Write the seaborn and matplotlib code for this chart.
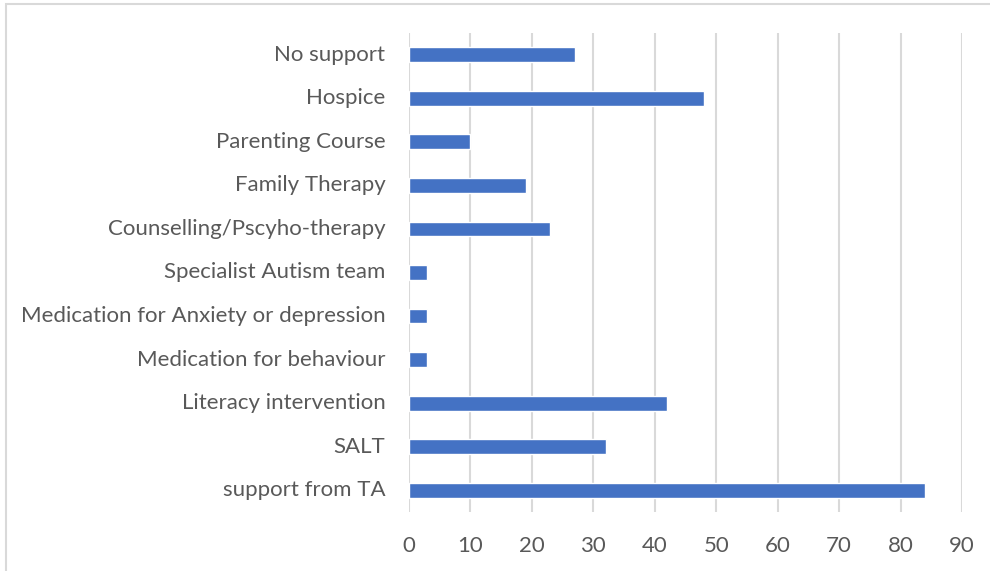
import matplotlib
matplotlib.use("Agg")
import matplotlib.pyplot as plt
import matplotlib.transforms as mtransforms
import seaborn as sns
import pandas as pd
from matplotlib.patches import Rectangle

categories = [
    "No support",
    "Hospice",
    "Parenting Course",
    "Family Therapy",
    "Counselling/Pscyho-therapy",
    "Specialist Autism team",
    "Medication for Anxiety or depression",
    "Medication for behaviour",
    "Literacy intervention",
    "SALT",
    "support from TA",
]
values = [27, 48, 10, 19, 23, 3, 3, 3, 42, 32, 84]
x_ticks = [0, 10, 20, 30, 40, 50, 60, 70, 80, 90]

df = pd.DataFrame({"category": categories, "value": values})

sns.set_theme(style="white")
plt.rcParams["font.family"] = ["Lato", "DejaVu Sans"]

fig = plt.figure(figsize=(9.9, 5.71), dpi=100)
ax = fig.add_axes([409 / 990, 1 - 512 / 571, (962 - 409) / 990, (512 - 33) / 571])

sns.barplot(data=df, x="value", y="category", order=categories, orient="h",
            color="#4472C4", saturation=1, width=0.34, ax=ax)

ax.set_xlim(0, 90)
ax.set_ylim(len(categories) - 0.5, -0.5)
ax.set_xticks(x_ticks)
ax.set_xticklabels([str(t) for t in x_ticks])
ax.set_xlabel("")
ax.set_ylabel("")
ax.grid(axis="x", color="#d9d9d9", linewidth=1.5)
ax.set_axisbelow(True)
for s in ax.spines.values():
    s.set_visible(False)
ax.tick_params(axis="x", length=0, pad=17, labelsize=16, labelcolor="#595959")
ax.tick_params(axis="y", length=0, pad=17, labelsize=16, labelcolor="#595959")

# nudge category labels up slightly so they sit centred on the bars
shift = mtransforms.ScaledTranslation(0, 2 / 100, fig.dpi_scale_trans)
for lbl in ax.get_yticklabels():
    lbl.set_transform(lbl.get_transform() + shift)

# outer chart frame
fig.patches.append(Rectangle((6 / 990, -0.02), 1.02, 1 - 4 / 571 + 0.02,
                             transform=fig.transFigure, fill=False,
                             edgecolor="#d9d9d9", linewidth=1.5))

fig.savefig("out.png", dpi=100)
